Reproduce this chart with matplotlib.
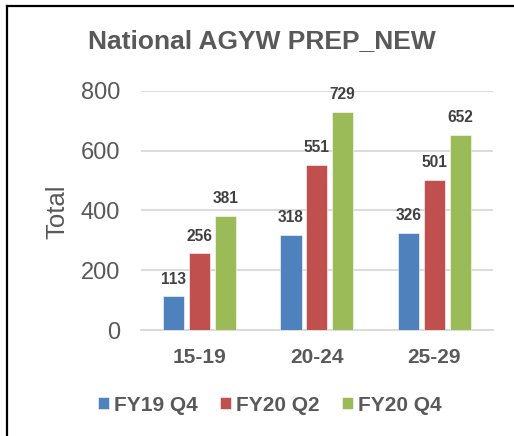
import numpy as np
import matplotlib
matplotlib.use("Agg")
import matplotlib.pyplot as plt

plt.rcParams['font.family'] = ['Liberation Sans', 'DejaVu Sans']

# data
groups = ['15-19', '20-24', '25-29']
series = ['FY19 Q4', 'FY20 Q2', 'FY20 Q4']
fy19_q4 = [113, 318, 326]
fy20_q2 = [256, 551, 501]
fy20_q4 = [381, 729, 652]
yticks = [0, 200, 400, 600, 800]

colors = ['#4F81BD', '#C0504D', '#9BBB59']
txt = '#595959'
grid = '#D9D9D9'

def main():
    fig = plt.figure(figsize=(5.14, 4.36), dpi=100)
    ax = fig.add_axes([0.274, 0.243, 0.685, 0.549])

    x = np.arange(len(groups))
    w = 0.18
    step = 0.22
    for i, (vals, name) in enumerate(zip([fy19_q4, fy20_q2, fy20_q4], series)):
        bars = ax.bar(x + (i - 1) * step, vals, w, color=colors[i], label=name,
                      edgecolor='white', linewidth=0.4, zorder=3)
        for b, v in zip(bars, vals):
            ax.annotate(str(v), (b.get_x() + b.get_width() / 2, v),
                        xytext=(0, 7), textcoords='offset points',
                        ha='center', va='bottom', fontsize=11.2,
                        fontweight='bold', color='#404040')

    ax.set_xlim(-0.5, 2.5)
    ax.set_ylim(0, 800)
    ax.set_yticks(yticks)
    ax.set_xticks(x)
    ax.set_xticklabels(groups, fontsize=15, fontweight='bold', color=txt)
    ax.tick_params(axis='x', length=0, pad=13)
    ax.tick_params(axis='y', length=0, pad=15, labelsize=17, labelcolor=txt)
    ax.yaxis.grid(True, color=grid, linewidth=1.3, zorder=0)
    for s in ['top', 'right', 'left']:
        ax.spines[s].set_visible(False)
    ax.spines['bottom'].set_color(grid)
    ax.spines['bottom'].set_linewidth(1.3)

    fig.text(57 / 514, 0.515, 'Total', rotation=90, ha='center', va='center',
             fontsize=18.5, color=txt)
    fig.text(0.51, 0.89, 'National AGYW PREP_NEW', ha='center', va='baseline',
             fontsize=19, fontweight='bold', color=txt)

    leg = fig.legend(loc='center', bbox_to_anchor=(0.525, 1 - 405 / 436), ncol=3,
                     frameon=False, handlelength=0.53, handleheight=0.53,
                     handletextpad=0.25, columnspacing=1.05,
                     prop={'size': 15, 'weight': 'bold'})
    for t in leg.get_texts():
        t.set_color(txt)

    # chart frame (left and top edges visible)
    fig.add_artist(plt.Line2D([7 / 514, 7 / 514], [0, 1 - 6 / 436], color='black',
                              linewidth=1.6, transform=fig.transFigure))
    fig.add_artist(plt.Line2D([7 / 514, 1], [1 - 6 / 436, 1 - 6 / 436], color='black',
                              linewidth=1.6, transform=fig.transFigure))

    fig.savefig('out.png', dpi=100)

if __name__ == "__main__":
    main()
